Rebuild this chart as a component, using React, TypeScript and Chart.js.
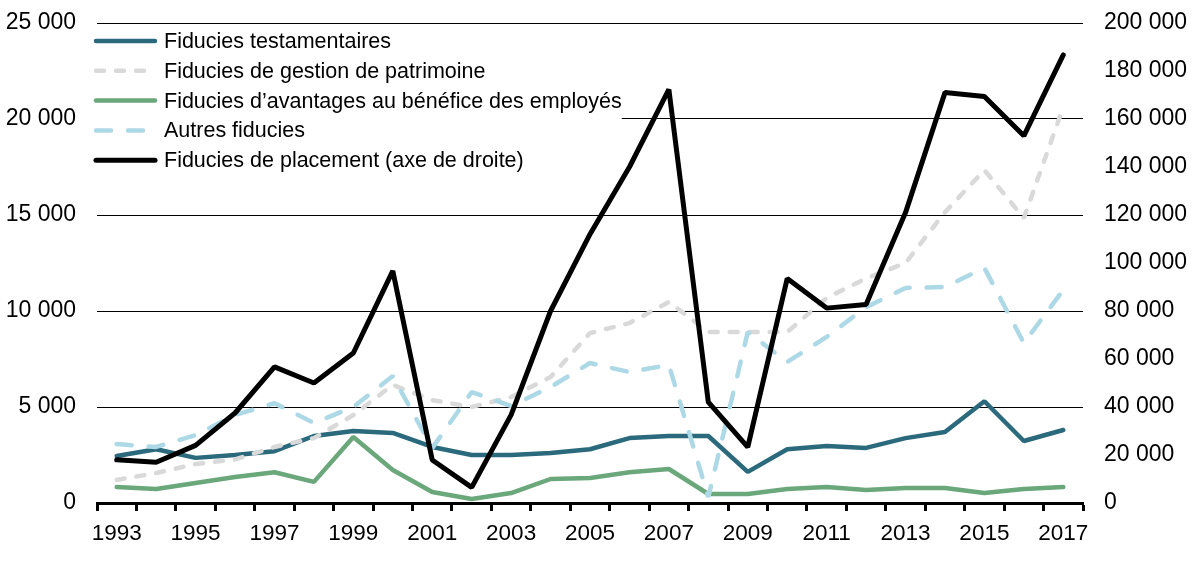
import { useEffect, useRef } from 'react';
import { Chart, registerables } from 'chart.js';

Chart.register(...registerables);

const years = ['1993', '1994', '1995', '1996', '1997', '1998', '1999', '2000', '2001', '2002', '2003', '2004', '2005', '2006', '2007', '2008', '2009', '2010', '2011', '2012', '2013', '2014', '2015', '2016', '2017'];

const testamentaires = [2450, 2800, 2350, 2500, 2700, 3490, 3750, 3650, 2920, 2500, 2500, 2600, 2800, 3380, 3490, 3490, 1620, 2800, 2970, 2870, 3380, 3700, 5300, 3230, 3800];
const gestionPatrimoine = [1200, 1560, 2030, 2270, 2920, 3380, 4580, 6150, 5360, 5000, 5520, 6560, 8850, 9370, 10470, 8900, 8900, 8900, 10680, 11700, 12500, 15150, 17340, 14840, 20620];
const avantagesEmployes = [830, 730, 1040, 1350, 1600, 1100, 3440, 1720, 570, 210, 520, 1250, 1300, 1600, 1770, 470, 470, 730, 830, 680, 780, 780, 520, 730, 830];
const autresFiducies = [3070, 2920, 3540, 4580, 5200, 4170, 5000, 6610, 2860, 5780, 5050, 6040, 7290, 6820, 7190, 310, 8900, 7340, 8650, 10200, 11200, 11250, 12240, 8330, 11100];
const fiduciesPlacement = [18000, 17000, 24000, 37500, 56700, 50000, 62500, 96700, 17900, 6500, 36700, 80000, 112000, 140000, 172300, 42000, 23300, 93500, 81200, 82700, 121000, 171000, 169400, 153000, 186700];

const labels = [
  'Fiducies testamentaires',
  'Fiducies de gestion de patrimoine',
  'Fiducies d\u2019avantages au bénéfice des employés',
  'Autres fiducies',
  'Fiducies de placement (axe de droite)',
];

const FONT = '"Liberation Sans", Arial, sans-serif';

const fmt = (v: number) => String(v).replace(/\B(?=(\d{3})+(?!\d))/g, ' ');

const insideLegend = {
  id: 'insideLegend',
  afterDraw(chart: any) {
    const ctx = chart.ctx as CanvasRenderingContext2D;
    const datasets = chart.data.datasets as any[];
    const x0 = 94;
    const y0 = 41;
    const rowH = 29.8;
    const sampleW = 63;
    const textX = 164;
    ctx.save();
    ctx.font = `21.5px ${FONT}`;
    let maxW = 0;
    datasets.forEach((ds) => {
      maxW = Math.max(maxW, ctx.measureText(ds.label).width);
    });
    ctx.fillStyle = '#ffffff';
    ctx.fillRect(x0 - 3, y0 - 14, textX - x0 + maxW + 3, rowH * (datasets.length - 1) + 28);
    datasets.forEach((ds, i) => {
      const y = y0 + i * rowH;
      ctx.strokeStyle = ds.borderColor;
      ctx.lineWidth = ds.borderWidth;
      ctx.lineCap = 'round';
      ctx.setLineDash(ds.borderDash || []);
      ctx.beginPath();
      ctx.moveTo(x0 + 2, y);
      ctx.lineTo(x0 + sampleW - 2, y);
      ctx.stroke();
      ctx.setLineDash([]);
      ctx.fillStyle = '#000000';
      ctx.textBaseline = 'middle';
      ctx.textAlign = 'left';
      ctx.fillText(ds.label, textX, y + 1);
    });
    ctx.restore();
  },
};

export default function App() {
  const canvasRef = useRef<HTMLCanvasElement | null>(null);

  useEffect(() => {
    if (!canvasRef.current) return;
    const common = {
      pointRadius: 0,
      pointHoverRadius: 0,
      tension: 0,
      borderCapStyle: 'round' as const,
      borderJoinStyle: 'bevel' as const,
      fill: false,
    };
    const chart = new Chart(canvasRef.current, {
      type: 'line',
      data: {
        labels: years,
        datasets: [
          { ...common, label: labels[0], data: testamentaires, borderColor: '#2B697C', backgroundColor: '#2B697C', borderWidth: 4.5, yAxisID: 'y', order: 4 },
          { ...common, label: labels[1], data: gestionPatrimoine, borderColor: '#D9D9D9', backgroundColor: '#D9D9D9', borderWidth: 4.5, borderDash: [8, 12], yAxisID: 'y', order: 3 },
          { ...common, label: labels[2], data: avantagesEmployes, borderColor: '#6AA77A', backgroundColor: '#6AA77A', borderWidth: 4.5, yAxisID: 'y', order: 2 },
          { ...common, label: labels[3], data: autresFiducies, borderColor: '#ADD8E6', backgroundColor: '#ADD8E6', borderWidth: 4.5, borderDash: [15, 17], yAxisID: 'y', order: 1 },
          { ...common, label: labels[4], data: fiduciesPlacement, borderColor: '#000000', backgroundColor: '#000000', borderWidth: 5, yAxisID: 'y1', order: 0 },
        ],
      },
      options: {
        responsive: false,
        maintainAspectRatio: false,
        animation: false,
        devicePixelRatio: 1,
        layout: { padding: { top: 23, left: 0, right: 0, bottom: 0 } },
        plugins: {
          legend: { display: false },
          tooltip: { enabled: false },
        },
        scales: {
          x: {
            type: 'category',
            offset: true,
            grid: {
              display: true,
              offset: true,
              drawOnChartArea: false,
              drawTicks: true,
              tickLength: 8,
              tickColor: '#000000',
              tickWidth: 3,
            },
            border: { display: true, color: '#000000', width: 3 },
            ticks: {
              autoSkip: false,
              maxRotation: 0,
              minRotation: 0,
              padding: 9,
              color: '#000000',
              font: { family: FONT, size: 22.5 },
              callback: (_v: any, i: number) => (i % 2 === 0 ? years[i] : ''),
            },
            afterFit: (s: any) => { s.height = 74; },
          },
          y: {
            type: 'linear',
            position: 'left',
            min: 0,
            max: 25000,
            grid: { color: '#000000', lineWidth: 1, drawTicks: false },
            border: { display: false },
            ticks: {
              stepSize: 5000,
              padding: 21,
              color: '#000000',
              font: { family: FONT, size: 23 },
              callback: (v: any) => fmt(Number(v)),
            },
            afterFit: (s: any) => { s.width = 97; s.paddingTop = 0; s.paddingBottom = 0; },
          },
          y1: {
            type: 'linear',
            position: 'right',
            min: 0,
            max: 200000,
            grid: { display: false, drawTicks: false },
            border: { display: false },
            ticks: {
              stepSize: 20000,
              padding: 21,
              color: '#000000',
              font: { family: FONT, size: 23 },
              callback: (v: any) => fmt(Number(v)),
            },
            afterFit: (s: any) => { s.width = 109; s.paddingTop = 0; s.paddingBottom = 0; },
          },
        },
      },
      plugins: [insideLegend],
    });
    return () => chart.destroy();
  }, []);

  return (
    <div style={{ position: 'fixed', left: 0, top: 0, width: 1192, height: 577, background: '#ffffff' }}>
      <canvas ref={canvasRef} width={1192} height={577} style={{ display: 'block' }} />
    </div>
  );
}
